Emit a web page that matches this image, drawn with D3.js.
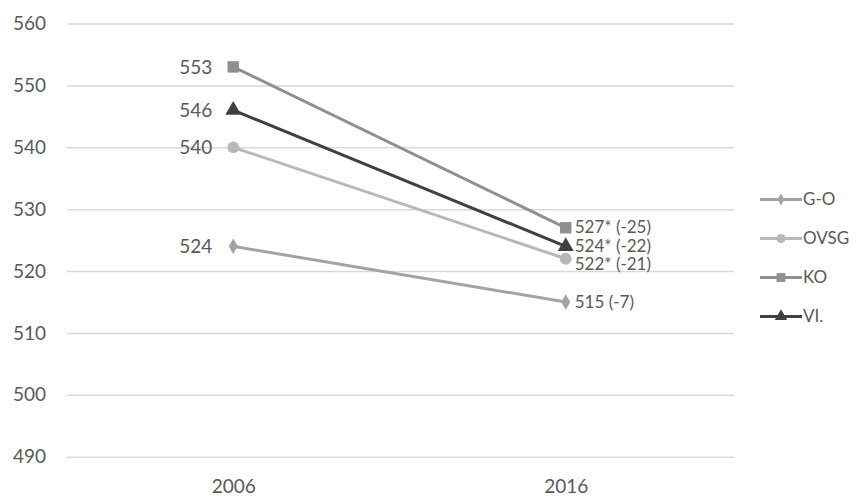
<!DOCTYPE html>
<html><head><meta charset="utf-8">
<script src="https://cdn.jsdelivr.net/npm/d3@7"></script>
<style>body{margin:0;background:#fff}svg{display:block}text{font-family:Lato,"Open Sans",sans-serif;fill:#595959}</style>
</head><body>
<script>
const years = ["2006","2016"];
const seriesNames = ["G-O","OVSG","KO","VI."];
const goValues = [524,515];
const ovsgValues = [540,522];
const koValues = [553,527];
const viValues = [546,524];
const endLabels = ["515 (-7)","522* (-21)","527* (-25)","524* (-22)"];
const yTicks = [490,500,510,520,530,540,550,560];

const W=859,H=496;
const svg=d3.select("body").append("svg").attr("width",W).attr("height",H);
const x=d3.scalePoint().domain(years).range([67,732]).padding(0.5);
const y=d3.scaleLinear().domain([490,560]).range([456.7,23.6]);

const series=[
 {name:seriesNames[0],values:goValues,color:"#a3a3a3",shape:"diamond",end:endLabels[0],dy:0},
 {name:seriesNames[1],values:ovsgValues,color:"#b8b8b8",shape:"circle",end:endLabels[1],dy:5},
 {name:seriesNames[2],values:koValues,color:"#8f8f8f",shape:"square",end:endLabels[2],dy:-1},
 {name:seriesNames[3],values:viValues,color:"#404040",shape:"triangle",end:endLabels[3],dy:0}
];

// grid
const ax=d3.axisLeft(y).tickValues(yTicks).tickSize(-(734-67)).tickPadding(21);
const g=svg.append("g").attr("transform","translate(67,0)").call(ax);
g.select(".domain").remove();
g.selectAll(".tick line").attr("stroke","#d9d9d9").attr("stroke-width",1.5);
g.selectAll(".tick text").attr("font-size",19).attr("fill","#595959").attr("font-family","Lato");

const xa=d3.axisBottom(x).tickSize(0).tickPadding(23);
const gx=svg.append("g").attr("transform","translate(0,456.7)").call(xa);
gx.select(".domain").remove();
gx.selectAll(".tick text").attr("font-size",19).attr("fill","#595959").attr("font-family","Lato");

const sym={diamond:d3.symbolDiamond,circle:d3.symbolCircle,square:d3.symbolSquare,triangle:d3.symbolTriangle};
const sz={diamond:70,circle:110,square:130,triangle:110};
const line=d3.line().x((d,i)=>x(years[i])).y(d=>y(d));

series.forEach(s=>{
  svg.append("path").attr("d",line(s.values)).attr("fill","none").attr("stroke",s.color).attr("stroke-width",3);
  s.values.forEach((v,i)=>{
    svg.append("path").attr("d",d3.symbol(sym[s.shape],sz[s.shape])())
      .attr("transform",`translate(${x(years[i])},${y(v)})`).attr("fill",s.color);
  });
  svg.append("text").attr("x",x(years[0])-21).attr("y",y(s.values[0])).attr("dy","0.35em")
    .attr("text-anchor","end").attr("font-size",19).text(s.values[0]);
  svg.append("text").attr("x",x(years[1])+9).attr("y",y(s.values[1])+s.dy).attr("dy","0.35em")
    .attr("font-size",17).text(s.end);
});

// legend
const leg=d3.scaleBand().domain(seriesNames).range([180,336]);
series.forEach(s=>{
  const ly=leg(s.name)+leg.bandwidth()/2;
  svg.append("line").attr("x1",760).attr("x2",802).attr("y1",ly).attr("y2",ly).attr("stroke",s.color).attr("stroke-width",3);
  svg.append("path").attr("d",d3.symbol(sym[s.shape],sz[s.shape]*0.6)()).attr("transform",`translate(781,${ly})`).attr("fill",s.color);
  svg.append("text").attr("x",803).attr("y",ly).attr("dy","0.35em").attr("font-size",17).text(s.name);
});
</script>
</body></html>
